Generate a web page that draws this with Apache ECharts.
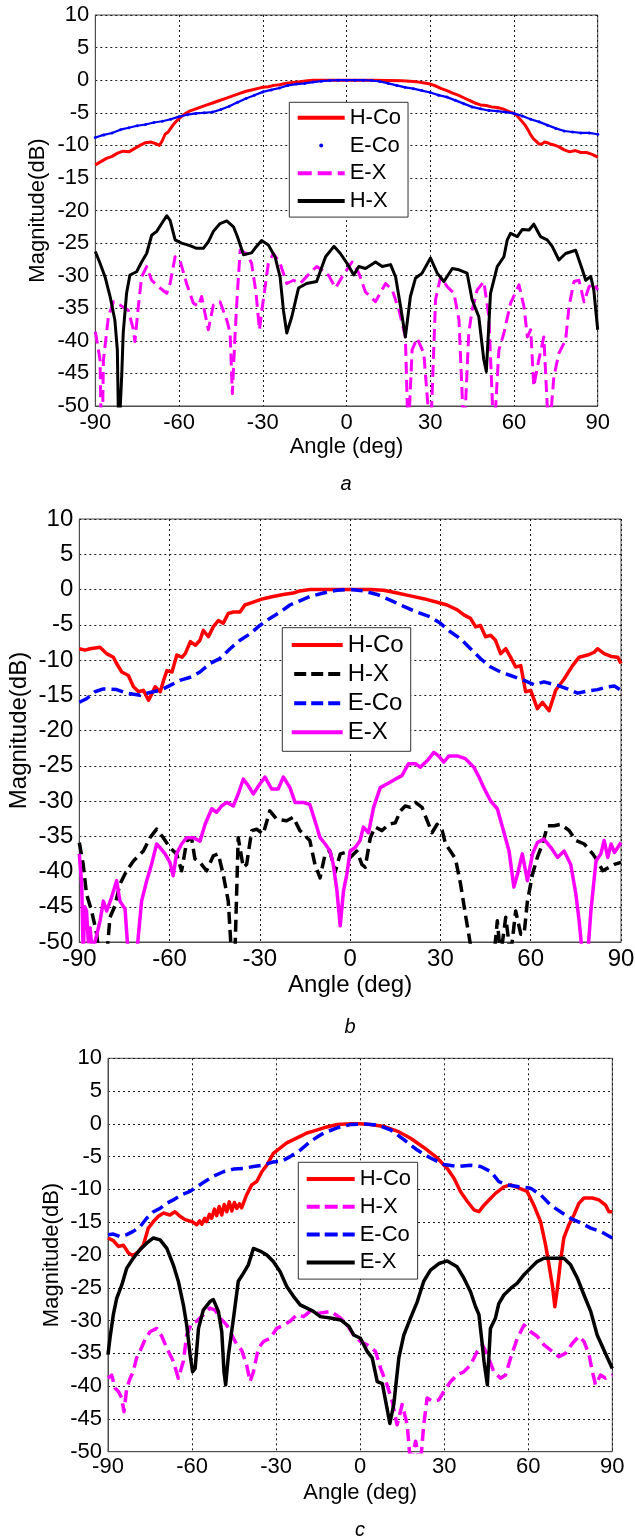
<!DOCTYPE html>
<html>
<head>
<meta charset="utf-8">
<title>Radiation patterns</title>
<script src="https://cdn.jsdelivr.net/npm/echarts@6/dist/echarts.min.js"></script>
<style>
  html, body { margin: 0; padding: 0; background: #fff; }
  #chart { width: 635px; height: 1540px; }
</style>
</head>
<body>
<div id="chart"></div>
<script>
// ---------- axis ticks ----------
const angleTicks = [-90, -60, -30, 0, 30, 60, 90];
const dbTicks = [-50, -45, -40, -35, -30, -25, -20, -15, -10, -5, 0, 5, 10];

// ---------- panel a : [angle deg, magnitude dB] ----------
const aHCo = [[-90,-13.0],[-88,-12.5],[-86,-12.0],[-84,-11.7],[-82,-11.2],[-80,-10.9],[-78,-11.0],[-76,-10.5],[-74,-10.0],[-72,-9.6],[-70,-9.5],[-68,-9.8],[-67,-10.0],[-66,-9.3],[-65,-8.3],[-64,-8.0],[-63,-7.4],[-62,-6.8],[-61,-6.3],[-60,-5.9],[-58,-5.2],[-56,-4.7],[-54,-4.4],[-52,-4.1],[-50,-3.8],[-48,-3.5],[-46,-3.2],[-44,-2.9],[-42,-2.6],[-40,-2.3],[-38,-2.0],[-36,-1.7],[-34,-1.5],[-32,-1.3],[-30,-1.1],[-28,-1.0],[-26,-0.8],[-24,-0.7],[-22,-0.5],[-20,-0.4],[-18,-0.3],[-16,-0.2],[-14,-0.1],[-12,0],[-10,0],[-5,0],[0,0],[5,0],[10,0],[15,-0.05],[20,-0.1],[24,-0.2],[26,-0.3],[28,-0.45],[30,-0.6],[32,-0.9],[34,-1.3],[36,-1.6],[38,-2.0],[40,-2.3],[42,-2.7],[44,-3.1],[46,-3.5],[48,-3.8],[50,-3.9],[52,-4.1],[54,-4.2],[56,-4.4],[58,-4.8],[60,-5.1],[61,-5.4],[62,-5.9],[63,-6.4],[64,-6.9],[65,-7.6],[66,-8.4],[67,-9.0],[68,-9.4],[69,-9.8],[70,-9.8],[71,-9.5],[72,-9.6],[73,-9.8],[74,-9.9],[76,-10.2],[78,-10.7],[80,-11.0],[82,-10.8],[84,-11.1],[86,-11.1],[88,-11.4],[90,-11.8]];
const aECo = [[-90,-8.8],[-87,-8.4],[-84,-8.1],[-81,-7.6],[-78,-7.3],[-75,-7.0],[-72,-6.8],[-69,-6.5],[-66,-6.3],[-63,-6.0],[-60,-5.6],[-57,-5.3],[-54,-5.1],[-51,-5.0],[-48,-4.9],[-45,-4.5],[-42,-4.0],[-39,-3.4],[-36,-2.8],[-33,-2.3],[-30,-1.8],[-27,-1.5],[-24,-1.2],[-21,-0.8],[-18,-0.6],[-15,-0.5],[-12,-0.3],[-9,-0.15],[-6,-0.05],[-3,0],[0,0],[3,0],[6,0],[9,-0.05],[12,-0.2],[15,-0.5],[18,-0.8],[21,-1.1],[24,-1.3],[27,-1.6],[30,-1.9],[33,-2.3],[36,-2.6],[39,-3.1],[42,-3.6],[45,-4.1],[48,-4.4],[51,-4.65],[54,-4.75],[57,-4.9],[60,-5.1],[63,-5.5],[66,-6.0],[69,-6.4],[72,-6.9],[75,-7.4],[78,-7.8],[81,-7.95],[84,-8.1],[87,-8.1],[90,-8.3]];
const aEX = [[-90,-38.6],[-89,-41],[-88.3,-43],[-88,-50.5],[-87.5,-55],[-87.1,-43],[-85.3,-36.3],[-83.5,-34],[-81.2,-34.5],[-78.2,-35.3],[-76.5,-38],[-75.8,-40.1],[-74.6,-34.8],[-73.4,-30.2],[-71.6,-28.6],[-69.8,-30.7],[-67.4,-31.7],[-64.4,-32.7],[-63.2,-31.2],[-61.4,-27.1],[-59.7,-27.6],[-57.3,-31.2],[-54.9,-34.2],[-53.1,-34.7],[-51.9,-33.2],[-50.7,-35.8],[-49.5,-38.3],[-47.7,-34.5],[-45.3,-34.0],[-42.9,-36.8],[-41.7,-38.8],[-40.9,-48.1],[-39.9,-38.8],[-39.1,-32.7],[-38.1,-26.1],[-35.8,-26.6],[-34.0,-28.1],[-32.4,-32.7],[-31.2,-38.3],[-29.8,-33.7],[-28.0,-28.1],[-26.2,-26.6],[-23.8,-28.1],[-21.4,-31.2],[-19.0,-30.7],[-16.6,-31.2],[-13.1,-29.6],[-10.7,-28.6],[-6.9,-29.6],[-3.9,-31.9],[-1.6,-30.2],[2.0,-27.9],[4.4,-29.6],[6.8,-32.5],[10.4,-34.0],[14.0,-31.2],[16.4,-32.2],[18.8,-35.3],[21.1,-39.4],[22.1,-55],[23.5,-41.4],[25.3,-39.6],[27.7,-41.9],[30.1,-55],[31.9,-33.7],[33.7,-30.2],[36.1,-31.7],[38.5,-32.7],[40.3,-36.8],[42.1,-55],[43.8,-38.8],[45,-35.3],[46.8,-32.2],[49.2,-30.9],[51,-36.3],[52.8,-55],[54.6,-41.4],[56.4,-38.8],[58.8,-34.2],[61.8,-31.4],[63.6,-34.8],[64.8,-39.4],[66,-38.3],[67.1,-47],[68.9,-42.9],[70.7,-39.4],[72.5,-55],[74.3,-45.5],[76.1,-41.9],[78.5,-39.9],[79.7,-34.8],[81.5,-30.9],[83.3,-30.7],[85.1,-34],[86.9,-31.7],[88.6,-31.2],[90,-32.2]];
const aHX = [[-90,-26.3],[-88.3,-28.1],[-86.5,-30.2],[-84.7,-33.2],[-83,-36.8],[-82.1,-41.4],[-81.6,-55],[-81,-55],[-80.5,-45],[-80,-38.8],[-78.8,-32.7],[-77.6,-29.9],[-75.2,-29.4],[-73.4,-27.9],[-71.6,-26.6],[-69.8,-23.8],[-68,-23.2],[-66.2,-22],[-64.4,-20.8],[-63.2,-21.5],[-61.4,-24.5],[-59.1,-25.0],[-56.1,-25.4],[-53.7,-25.8],[-51.3,-25.8],[-49.5,-24.8],[-47.7,-23.2],[-45.3,-22.0],[-42.9,-21.6],[-40.5,-22.5],[-39.1,-24.0],[-36.9,-26.8],[-34,-26.5],[-32.8,-25.8],[-30.4,-24.6],[-28,-25.3],[-25.6,-27.1],[-23.8,-30.2],[-22.6,-35.3],[-21.4,-38.8],[-19.6,-36.3],[-17.2,-31.9],[-14.3,-31.2],[-10.7,-30.9],[-7.5,-27.1],[-4.5,-25.5],[-2.2,-26.6],[0.2,-28.1],[2.6,-29.9],[4.4,-28.6],[6.8,-28.9],[10.4,-27.9],[12.8,-28.6],[15.8,-28.3],[17.6,-30.2],[19.4,-34.8],[21.1,-39.4],[22.9,-33.2],[24.7,-30.4],[27.1,-29.6],[30.1,-27.3],[32.5,-29.6],[34.9,-30.9],[37.9,-28.9],[40.3,-29.1],[43.2,-29.6],[45,-33.7],[47.4,-36.3],[49.2,-42.9],[50.1,-44.7],[51.6,-32.7],[54,-28.6],[56.4,-27.1],[57.6,-24.5],[58.8,-23.5],[61.2,-24.0],[63,-22.9],[65.4,-23.0],[67.1,-22.1],[69.5,-24.0],[71.9,-24.5],[73.7,-25.5],[76.1,-27.6],[78.5,-26.6],[82.1,-26.1],[84.5,-29.1],[85.7,-30.7],[87.5,-30.1],[88.6,-32.2],[90,-38.3]];

// ---------- panel b ----------
const bHCo = [[-90,-8.4],[-88.1,-8.6],[-86.4,-8.4],[-83.1,-8.2],[-80.9,-9.1],[-78.7,-9.6],[-77.6,-10.5],[-75.9,-11.7],[-73.7,-12.2],[-72,-13.8],[-70.3,-14.5],[-68.7,-14.3],[-67,-15.7],[-65.9,-14.8],[-64.8,-13.8],[-63.1,-14.5],[-62,-12.9],[-60.9,-11.5],[-59.2,-11.7],[-57.6,-9.3],[-55.9,-9.6],[-54.8,-9.1],[-53.1,-7.4],[-51.4,-7.9],[-49.9,-7.2],[-48.8,-5.8],[-47.1,-6.7],[-45.5,-5.3],[-43.8,-4.4],[-42.2,-4.8],[-40.5,-3.4],[-38.8,-3.2],[-36.6,-3.2],[-35,-2.2],[-32.2,-1.8],[-28.9,-1.3],[-25.6,-1.0],[-22.2,-0.7],[-18.9,-0.5],[-16.7,-0.2],[-13.4,0],[-10,0],[-6.7,0],[0,0],[6.7,0],[11.1,-0.1],[15.6,-0.5],[20,-0.9],[24.4,-1.3],[28.9,-1.8],[32.2,-2.2],[35.6,-2.9],[37.8,-3.6],[40,-4.1],[41.7,-5.3],[43.3,-5.1],[45,-6.7],[46.7,-6.5],[48.3,-7.2],[50,-9.1],[51.7,-8.4],[53.3,-9.6],[55,-11.0],[56.7,-10.8],[58.3,-14.5],[60,-14.3],[62.2,-16.9],[63.9,-16.0],[66.1,-17.2],[68.3,-14.3],[71.1,-12.7],[73.9,-10.8],[76.1,-9.6],[78.9,-9.3],[81.1,-8.9],[82.2,-8.4],[84.4,-9.1],[86.7,-9.5],[88.9,-9.6],[90,-10.5]];
const bHX = [[-90,-35.9],[-88.7,-39.0],[-87.6,-43.2],[-85.9,-45.6],[-84.2,-48.9],[-83.4,-52],[-80.9,-52],[-79.8,-46.5],[-78.2,-44.9],[-76.5,-41.8],[-74.3,-39.9],[-72,-38.5],[-68.7,-37.1],[-66.5,-35.2],[-64.3,-34.0],[-62.1,-35.2],[-59.9,-36.6],[-57.7,-37.5],[-56,-39.9],[-54.3,-35.7],[-52.7,-35.2],[-51.6,-38.2],[-49.9,-38.7],[-47.7,-39.9],[-45.5,-37.8],[-43.8,-37.5],[-42.2,-40.4],[-40.5,-44.2],[-39.4,-52],[-38.3,-52],[-37.2,-35.2],[-35.5,-39.4],[-34.4,-39.0],[-32.7,-34.2],[-31.1,-34.0],[-28.9,-34.7],[-26.7,-31.4],[-24.4,-32.6],[-21.1,-32.8],[-18.9,-32.3],[-16.7,-34.2],[-13.4,-35.6],[-11.7,-39.0],[-10,-40.9],[-8.3,-37.5],[-6.7,-37.1],[-5,-40.1],[-3.3,-37.5],[-1.7,-37.3],[0,-38.0],[2.2,-37.1],[3.9,-39.0],[5,-39.4],[6.7,-35.2],[8.3,-33.7],[10.6,-34.2],[12.8,-33.3],[15,-33.1],[16.7,-31.4],[18.3,-30.7],[20,-30.9],[21.7,-30.2],[23.9,-30.9],[25.6,-32.8],[27.2,-34.5],[28.9,-33.3],[30.6,-34.2],[31.7,-36.1],[33.3,-37.1],[35,-38.2],[36.7,-41.8],[38.3,-46.1],[39.4,-48.9],[40.6,-52],[47.8,-52],[48.9,-47.0],[50,-52],[51.7,-46.5],[53.3,-52],[55,-45.6],[56.7,-48.9],[57.8,-48.9],[58.9,-44.2],[60.6,-40.4],[62.2,-38.0],[63.9,-36.1],[65.6,-33.5],[67.8,-33.5],[70,-33.3],[72.8,-34.2],[75,-35.6],[77.8,-36.1],[80.6,-37.5],[82.2,-38.5],[83.9,-39.9],[86.1,-39.4],[87.8,-39.0],[90,-38.7]];
const bECo = [[-90,-16.0],[-87.6,-15.5],[-84.8,-14.5],[-82,-14.1],[-77.6,-14.2],[-74.3,-14.7],[-69.8,-15.0],[-66.5,-14.6],[-63.1,-14.3],[-59.8,-13.6],[-56.6,-12.9],[-52.7,-12.4],[-49.9,-11.7],[-46.6,-10.5],[-43.3,-9.8],[-39.9,-8.4],[-36.6,-7.2],[-33.3,-6.3],[-30,-5.1],[-26.7,-4.1],[-23.3,-3.2],[-20,-2.2],[-16.7,-1.6],[-13.4,-1.0],[-8.9,-0.5],[-4.4,-0.1],[0,0],[4.4,-0.2],[8.9,-0.7],[13.3,-1.5],[17.8,-2.4],[22.2,-3.2],[26.7,-3.9],[30,-4.8],[33.3,-6.0],[36.7,-7.0],[40,-8.4],[43.3,-9.8],[46.7,-11.0],[50,-11.7],[53.3,-12.2],[57.8,-12.9],[61.1,-13.5],[64.4,-13.1],[68.9,-13.6],[72.2,-14.1],[75.6,-14.7],[78.9,-14.4],[82.2,-14.2],[85.6,-13.8],[87.8,-13.7],[90,-14.3]];
const bEX = [[-90,-37.5],[-89.2,-41.8],[-88.7,-52],[-88.2,-45],[-87.6,-45.6],[-87,-50],[-86.4,-48],[-85.6,-52],[-84.8,-50],[-83.1,-47],[-82,-44.2],[-80.9,-45.6],[-79.3,-43.7],[-77.6,-41.3],[-76.5,-44.2],[-74.8,-45.3],[-73.7,-52],[-71,-52],[-69.3,-44.2],[-67.6,-41.3],[-66,-39],[-64.3,-36.1],[-63.2,-36.6],[-61.5,-37.5],[-59.9,-38.7],[-58.8,-40.6],[-57.7,-37.5],[-56,-36.1],[-54.3,-35.2],[-52.1,-35.2],[-49.9,-35.7],[-48.2,-33.3],[-46,-31.1],[-44.4,-31.6],[-42.7,-30.7],[-41,-30.2],[-38.8,-30.7],[-37.2,-29.0],[-35.5,-26.9],[-33.9,-27.8],[-32.2,-29.0],[-30,-27.6],[-28.3,-26.6],[-26.1,-28.3],[-23.9,-28.3],[-22.2,-26.6],[-20,-28.1],[-18.3,-30.2],[-15.6,-30.2],[-13.4,-30.5],[-11.7,-32.8],[-10,-35.2],[-8.3,-36.1],[-6.7,-37.1],[-5.6,-39.0],[-4.4,-42.7],[-3.3,-47.7],[-2.2,-42.7],[-1.1,-40.4],[0,-37.1],[1.7,-36.6],[3.3,-35.6],[4.4,-33.7],[6.1,-34.5],[7.8,-30.9],[10,-28.1],[12.2,-27.6],[15,-26.9],[17.2,-26.4],[19.4,-24.7],[21.7,-24.7],[23.3,-25.2],[25.6,-24.3],[27.8,-23.1],[29.4,-23.6],[31.1,-24.5],[32.8,-23.6],[35.6,-23.6],[38.3,-24.0],[41.1,-25.2],[42.8,-26.6],[44.4,-28.1],[46.7,-30.0],[48.9,-31.1],[50.6,-33.7],[52.8,-37.1],[54.4,-42.2],[55.6,-40.4],[57.2,-37.5],[58.9,-41.3],[60.6,-37.5],[62.2,-35.9],[64.4,-35.4],[66.7,-36.6],[68.9,-38.0],[71.1,-37.1],[73.3,-39.0],[75,-43.2],[76.1,-47.0],[77.2,-52],[78.9,-52],[80,-45.6],[81.7,-38.5],[83.3,-37.5],[84.4,-35.6],[85.6,-38],[86.7,-36.1],[87.8,-37.3],[88.9,-36.6],[90,-35.9]];

// ---------- panel c ----------
const cHCo = [[-90,-17.4],[-88.1,-17.8],[-86.3,-18.7],[-84.5,-18.5],[-82.7,-19.7],[-81,-20.1],[-79.2,-19.5],[-77.4,-18.5],[-75.6,-15.9],[-73.8,-14.9],[-72,-14.1],[-70.2,-13.6],[-67.9,-13.9],[-66.1,-13.4],[-64.3,-14.1],[-62.5,-14.6],[-60.1,-14.9],[-58.3,-15.4],[-57.3,-14.8],[-56.5,-15.3],[-55.5,-14.4],[-54.8,-14.9],[-53.8,-13.8],[-53,-14.4],[-52,-13.0],[-51.2,-14.0],[-50.3,-12.6],[-49.4,-13.9],[-48.5,-12.3],[-47.6,-13.4],[-46.7,-11.9],[-45.8,-13.3],[-44.9,-12.0],[-44,-12.9],[-43.1,-12.2],[-42.3,-12.8],[-40.5,-10.8],[-38.7,-9.3],[-36.9,-8.8],[-35.1,-7.3],[-33.3,-6.3],[-31,-4.5],[-28.6,-3.7],[-26.2,-2.9],[-23.8,-2.4],[-21.4,-1.9],[-19,-1.4],[-16.7,-1.1],[-13,-0.6],[-8.2,-0.1],[-3.5,0],[0,0],[3.7,-0.1],[8.5,-0.4],[13.2,-1.1],[18,-2.2],[22.7,-3.6],[27.5,-5.2],[31.1,-6.8],[33.5,-8.3],[35.8,-10.3],[38.2,-11.8],[40.6,-13.1],[42.4,-13.4],[44.2,-12.4],[46,-11.6],[48.3,-10.6],[51.3,-9.6],[53.7,-9.3],[56.7,-9.8],[59.6,-10.3],[62,-12.4],[64.4,-14.9],[66.2,-18.5],[67.4,-21.5],[68.6,-24.6],[69.5,-27.9],[70.4,-25.1],[71.5,-21.0],[72.7,-17.4],[74.5,-15.4],[76.3,-13.9],[78.1,-12.1],[79.9,-11.3],[82.9,-11.3],[85.2,-11.6],[87.6,-12.4],[88.8,-13.4],[90,-13.4]];
const cHX = [[-90,-38.8],[-88.7,-38.3],[-87.5,-40.3],[-86.3,-40.8],[-85.1,-41.8],[-84.3,-43.9],[-83.3,-40.3],[-82.1,-38.8],[-81,-37.8],[-79.8,-35.7],[-78.6,-34.7],[-76.8,-32.9],[-75,-31.7],[-72.6,-31.2],[-70.8,-32.4],[-69,-34.2],[-66.7,-36.2],[-64.9,-38.8],[-63.1,-36.2],[-61.9,-32.2],[-60.1,-30.4],[-58.3,-30.1],[-56,-29.1],[-53.6,-28.1],[-51.8,-28.4],[-50,-29.6],[-47.6,-30.7],[-45.8,-32.2],[-44,-33.7],[-42.3,-34.5],[-40.5,-36.8],[-39.3,-39.3],[-38.1,-37.8],[-36.3,-34.2],[-34.5,-33.2],[-32.1,-32.7],[-29.8,-31.2],[-27.4,-30.7],[-25,-30.1],[-22.6,-29.1],[-20.2,-29.4],[-17.9,-28.6],[-14.9,-28.9],[-10.6,-28.6],[-7,-29.6],[-4.6,-30.7],[-2.3,-32.2],[0.1,-33.2],[2.5,-33.7],[5.5,-34.7],[7.3,-37.3],[9.6,-39.8],[11.4,-42.3],[13.2,-45.9],[15,-42.8],[16.8,-45.9],[18,-52],[19.8,-48.4],[21.5,-52],[22.7,-45.9],[23.9,-41.8],[25.7,-42.3],[28.1,-42.1],[29.9,-40.8],[32.3,-39.3],[34.6,-38.3],[37,-37.8],[39.4,-36.8],[41.8,-34.7],[43.6,-33.7],[45.4,-35.2],[47.7,-37.8],[50.1,-38.8],[51.9,-38.3],[53.7,-35.7],[56.1,-32.7],[58.5,-30.7],[60.8,-31.7],[63.2,-32.4],[65.6,-33.7],[68,-34.5],[70.9,-35.5],[73.3,-35.0],[75.7,-33.5],[78.1,-32.4],[79.9,-33.2],[81.7,-35.2],[82.9,-37.8],[84,-39.8],[85.8,-38.3],[87.6,-38.8],[90,-38.3]];
const cECo = [[-90,-16.9],[-88.1,-16.8],[-85.7,-17.2],[-83.3,-16.9],[-81,-16.4],[-78.6,-15.7],[-76.2,-14.4],[-73.8,-13.4],[-71.4,-12.9],[-69,-12.1],[-66.7,-11.6],[-63.7,-10.8],[-60.7,-10.3],[-58.3,-9.6],[-55.4,-8.8],[-52.4,-8.0],[-48.8,-7.3],[-45.2,-6.9],[-41.7,-6.8],[-38.1,-6.5],[-34.5,-6.3],[-31,-5.8],[-28,-5.7],[-25,-5.0],[-21.4,-4.0],[-17.8,-2.7],[-14.9,-1.9],[-13,-1.4],[-8.2,-0.6],[-3.5,-0.1],[1.3,0],[6.1,-0.2],[10.8,-0.9],[15.6,-2.4],[20.4,-4.0],[25.1,-5.2],[29.9,-6.2],[34.6,-6.5],[39.4,-6.3],[43,-6.5],[46.7,-7.3],[49.5,-8.8],[52.5,-9.3],[56.7,-9.6],[60.8,-9.8],[64.4,-10.8],[68,-12.4],[71.5,-13.4],[75.1,-14.4],[78.7,-15.1],[82.3,-15.9],[85.8,-16.4],[90,-17.4]];
const cEX = [[-90,-35.2],[-89.3,-32.7],[-88.1,-29.1],[-86.9,-26.6],[-85.1,-24.6],[-83.3,-22.0],[-81,-20.5],[-78.6,-19.2],[-76.2,-18.2],[-73.8,-17.4],[-71.4,-17.7],[-69,-19.0],[-66.7,-21.5],[-64.9,-24.0],[-63.1,-27.6],[-61.9,-30.7],[-60.7,-35.2],[-59.8,-37.8],[-58.9,-37.3],[-57.7,-31.2],[-56,-28.4],[-53.6,-27.1],[-52.4,-26.8],[-50.6,-28.6],[-49.4,-31.7],[-48.6,-37.8],[-48,-39.8],[-47,-35.2],[-45.2,-29.6],[-43.5,-24.0],[-41.7,-22.8],[-39.9,-21.5],[-38.1,-19.0],[-35.7,-19.4],[-33.3,-20.0],[-31,-21.0],[-28.6,-22.5],[-26.2,-24.8],[-23.8,-26.3],[-21.4,-27.6],[-19,-28.1],[-16.7,-28.6],[-14.2,-29.4],[-10.6,-29.6],[-7,-29.9],[-4,-30.9],[-2.3,-32.2],[0.1,-32.7],[2.5,-34.7],[4.3,-35.7],[6.1,-39.3],[7.9,-39.6],[9.6,-43.4],[10.6,-45.7],[12,-42.8],[13.8,-35.7],[15.6,-32.2],[18,-29.6],[20.4,-27.1],[22.7,-24.0],[25.1,-22.3],[28.1,-21.3],[31.1,-20.9],[34.6,-21.8],[37,-23.5],[39.4,-25.6],[41.2,-27.9],[42.4,-29.1],[43.6,-33.7],[44.2,-36.2],[45.4,-39.8],[46.5,-31.2],[48.3,-29.6],[49.5,-27.4],[51.3,-26.1],[53.7,-25.1],[56.1,-24.3],[58.5,-23.0],[60.8,-22.0],[63.2,-21.0],[65.6,-20.5],[69.2,-20.5],[72.7,-20.5],[75.1,-21.5],[77.5,-23.5],[79.9,-26.1],[82.3,-28.6],[84.6,-32.2],[87,-34.5],[90,-37.3]];

// ---------- styling ----------
const FONT = "'Liberation Sans', Arial, Helvetica, sans-serif";
const RED = '#ff0000', BLUE = '#0000ff', MAGENTA = '#ff00ff', BLACK = '#000000';

const panels = [
  {
    tag: 'a', font: 22, lw: 3, dash: [12, 6],
    grid: { left: 95.3, top: 15, width: 502.4, height: 391 },
    tagPos: [346, 484],
    xLabelMargin: 6, xNameGap: 30, yLabelMargin: 6, yNameGap: 46,
    legend: { left: 289.3, top: 102.3, padding: [4.4, 7, 5, 8.4], gap: 5.8, itemWidth: 47, iconDash: [14, 6] },
    series: [
      { name: 'H-Co', data: aHCo, color: RED, style: 'solid' },
      { name: 'E-Co', data: aECo, color: BLUE, style: 'dots' },
      { name: 'E-X', data: aEX, color: MAGENTA, style: 'dashed' },
      { name: 'H-X', data: aHX, color: BLACK, style: 'solid' }
    ]
  },
  {
    tag: 'b', font: 24, lw: 3.5, dash: [12, 6],
    grid: { left: 79.3, top: 519, width: 541.7, height: 423 },
    tagPos: [350, 1027],
    xLabelMargin: 5.5, xNameGap: 31, yLabelMargin: 6, yNameGap: 48,
    legend: { left: 282.3, top: 627.7, padding: [5.3, 7, 7, 9.4], gap: 5.1, itemWidth: 51, iconDash: [12, 5] },
    series: [
      { name: 'H-Co', data: bHCo, color: RED, style: 'solid' },
      { name: 'H-X', data: bHX, color: BLACK, style: 'dashed' },
      { name: 'E-Co', data: bECo, color: BLUE, style: 'dashed' },
      { name: 'E-X', data: bEX, color: MAGENTA, style: 'solid' }
    ]
  },
  {
    tag: 'c', font: 22, lw: 3.5, dash: [12, 6],
    grid: { left: 108, top: 1058.3, width: 504.3, height: 393.4 },
    tagPos: [360, 1530],
    xLabelMargin: 4, xNameGap: 30, yLabelMargin: 6, yNameGap: 45,
    legend: { left: 298.3, top: 1162.3, padding: [5.7, 6.6, 5.7, 8.4], gap: 5.8, itemWidth: 48, iconDash: [13, 5] },
    series: [
      { name: 'H-Co', data: cHCo, color: RED, style: 'solid' },
      { name: 'H-X', data: cHX, color: MAGENTA, style: 'dashed' },
      { name: 'E-Co', data: cECo, color: BLUE, style: 'dashed' },
      { name: 'E-X', data: cEX, color: BLACK, style: 'solid' }
    ]
  }
];

const ICON_H = 4;

// Legend key glyph: full bar for solid lines, bar segments for dashed, dot for marker-only.
function legendIcon(style, w, dash) {
  if (style === 'dots') return 'circle';
  if (style === 'solid') return 'path://M0,0h' + w + 'v' + ICON_H + 'h-' + w + 'z';
  let d = '', x = 0;
  while (x < w) {
    const seg = Math.min(dash[0], w - x);
    d += 'M' + x + ',0h' + seg + 'v' + ICON_H + 'h-' + seg + 'z';
    x += dash[0] + dash[1];
  }
  return 'path://' + d;
}

const grids = [], xAxes = [], yAxes = [], legends = [], series = [], graphics = [];

panels.forEach((p, i) => {
  grids.push(Object.assign({
    show: true, borderColor: '#4d4d4d', borderWidth: 1, backgroundColor: '#fff',
    containLabel: false, outerBoundsMode: 'none'
  }, p.grid));

  const splitLine = { show: true, lineStyle: { color: '#1a1a1a', width: 1, type: [2, 3] } };
  const axisLine = { show: true, onZero: false, lineStyle: { color: '#4d4d4d', width: 1 } };

  xAxes.push({
    type: 'value', gridIndex: i, position: 'bottom',
    min: angleTicks[0], max: angleTicks[angleTicks.length - 1],
    interval: angleTicks[1] - angleTicks[0],
    name: 'Angle (deg)', nameLocation: 'middle', nameGap: p.xNameGap, nameMoveOverlap: false,
    nameTextStyle: { color: '#000', fontSize: p.font, fontFamily: FONT },
    axisLine: axisLine,
    axisTick: { show: false },
    axisLabel: { color: '#000', fontSize: p.font, fontFamily: FONT, margin: p.xLabelMargin, hideOverlap: false },
    splitLine: splitLine
  });

  yAxes.push({
    type: 'value', gridIndex: i, position: 'left',
    min: dbTicks[0], max: dbTicks[dbTicks.length - 1],
    interval: dbTicks[1] - dbTicks[0],
    name: 'Magnitude(dB)', nameLocation: 'middle', nameGap: p.yNameGap, nameMoveOverlap: false,
    nameTextStyle: { color: '#000', fontSize: p.font, fontFamily: FONT },
    axisLine: axisLine,
    axisTick: { show: false },
    axisLabel: { color: '#000', fontSize: p.font, fontFamily: FONT, margin: p.yLabelMargin, hideOverlap: false },
    splitLine: splitLine
  });

  p.series.forEach((s, k) => {
    const isDots = s.style === 'dots';
    series.push({
      type: 'line', name: s.name, xAxisIndex: i, yAxisIndex: i,
      data: s.data,
      clip: true, silent: true, z: 2 + k,
      symbol: isDots ? 'circle' : 'none',
      symbolSize: isDots ? 3 : 0,
      showSymbol: isDots,
      showAllSymbol: true,
      itemStyle: { color: s.color, borderWidth: 0 },
      lineStyle: {
        color: s.color,
        width: isDots ? 2.2 : p.lw,
        type: s.style === 'dashed' ? p.dash : 'solid',
        cap: 'butt', join: 'round'
      },
      emphasis: { disabled: true }
    });
  });

  legends.push({
    show: true, orient: 'vertical',
    left: p.legend.left, top: p.legend.top,
    padding: p.legend.padding, itemGap: p.legend.gap,
    itemWidth: p.legend.itemWidth, itemHeight: ICON_H,
    backgroundColor: '#fff', borderColor: '#333', borderWidth: 1, borderRadius: 0,
    selectedMode: false, z: 20,
    textStyle: { color: '#000', fontSize: p.font, fontFamily: FONT, lineHeight: p.font },
    itemStyle: { borderWidth: 0 },
    data: p.series.map(s => ({
      name: s.name,
      icon: legendIcon(s.style, p.legend.itemWidth, p.legend.iconDash),
      itemStyle: { color: s.color, borderWidth: 0 }
    }))
  });

  graphics.push({
    type: 'text', x: p.tagPos[0], y: p.tagPos[1], silent: true,
    style: {
      text: p.tag, fill: '#000',
      font: 'italic 20px ' + FONT,
      align: 'center', verticalAlign: 'middle',
      textAlign: 'center', textVerticalAlign: 'middle'
    }
  });
});

const chart = echarts.init(document.getElementById('chart'), null, { renderer: 'canvas' });
chart.setOption({
  backgroundColor: '#fff',
  animation: false,
  textStyle: { fontFamily: FONT },
  grid: grids,
  xAxis: xAxes,
  yAxis: yAxes,
  legend: legends,
  series: series,
  graphic: graphics
});
</script>
</body>
</html>
